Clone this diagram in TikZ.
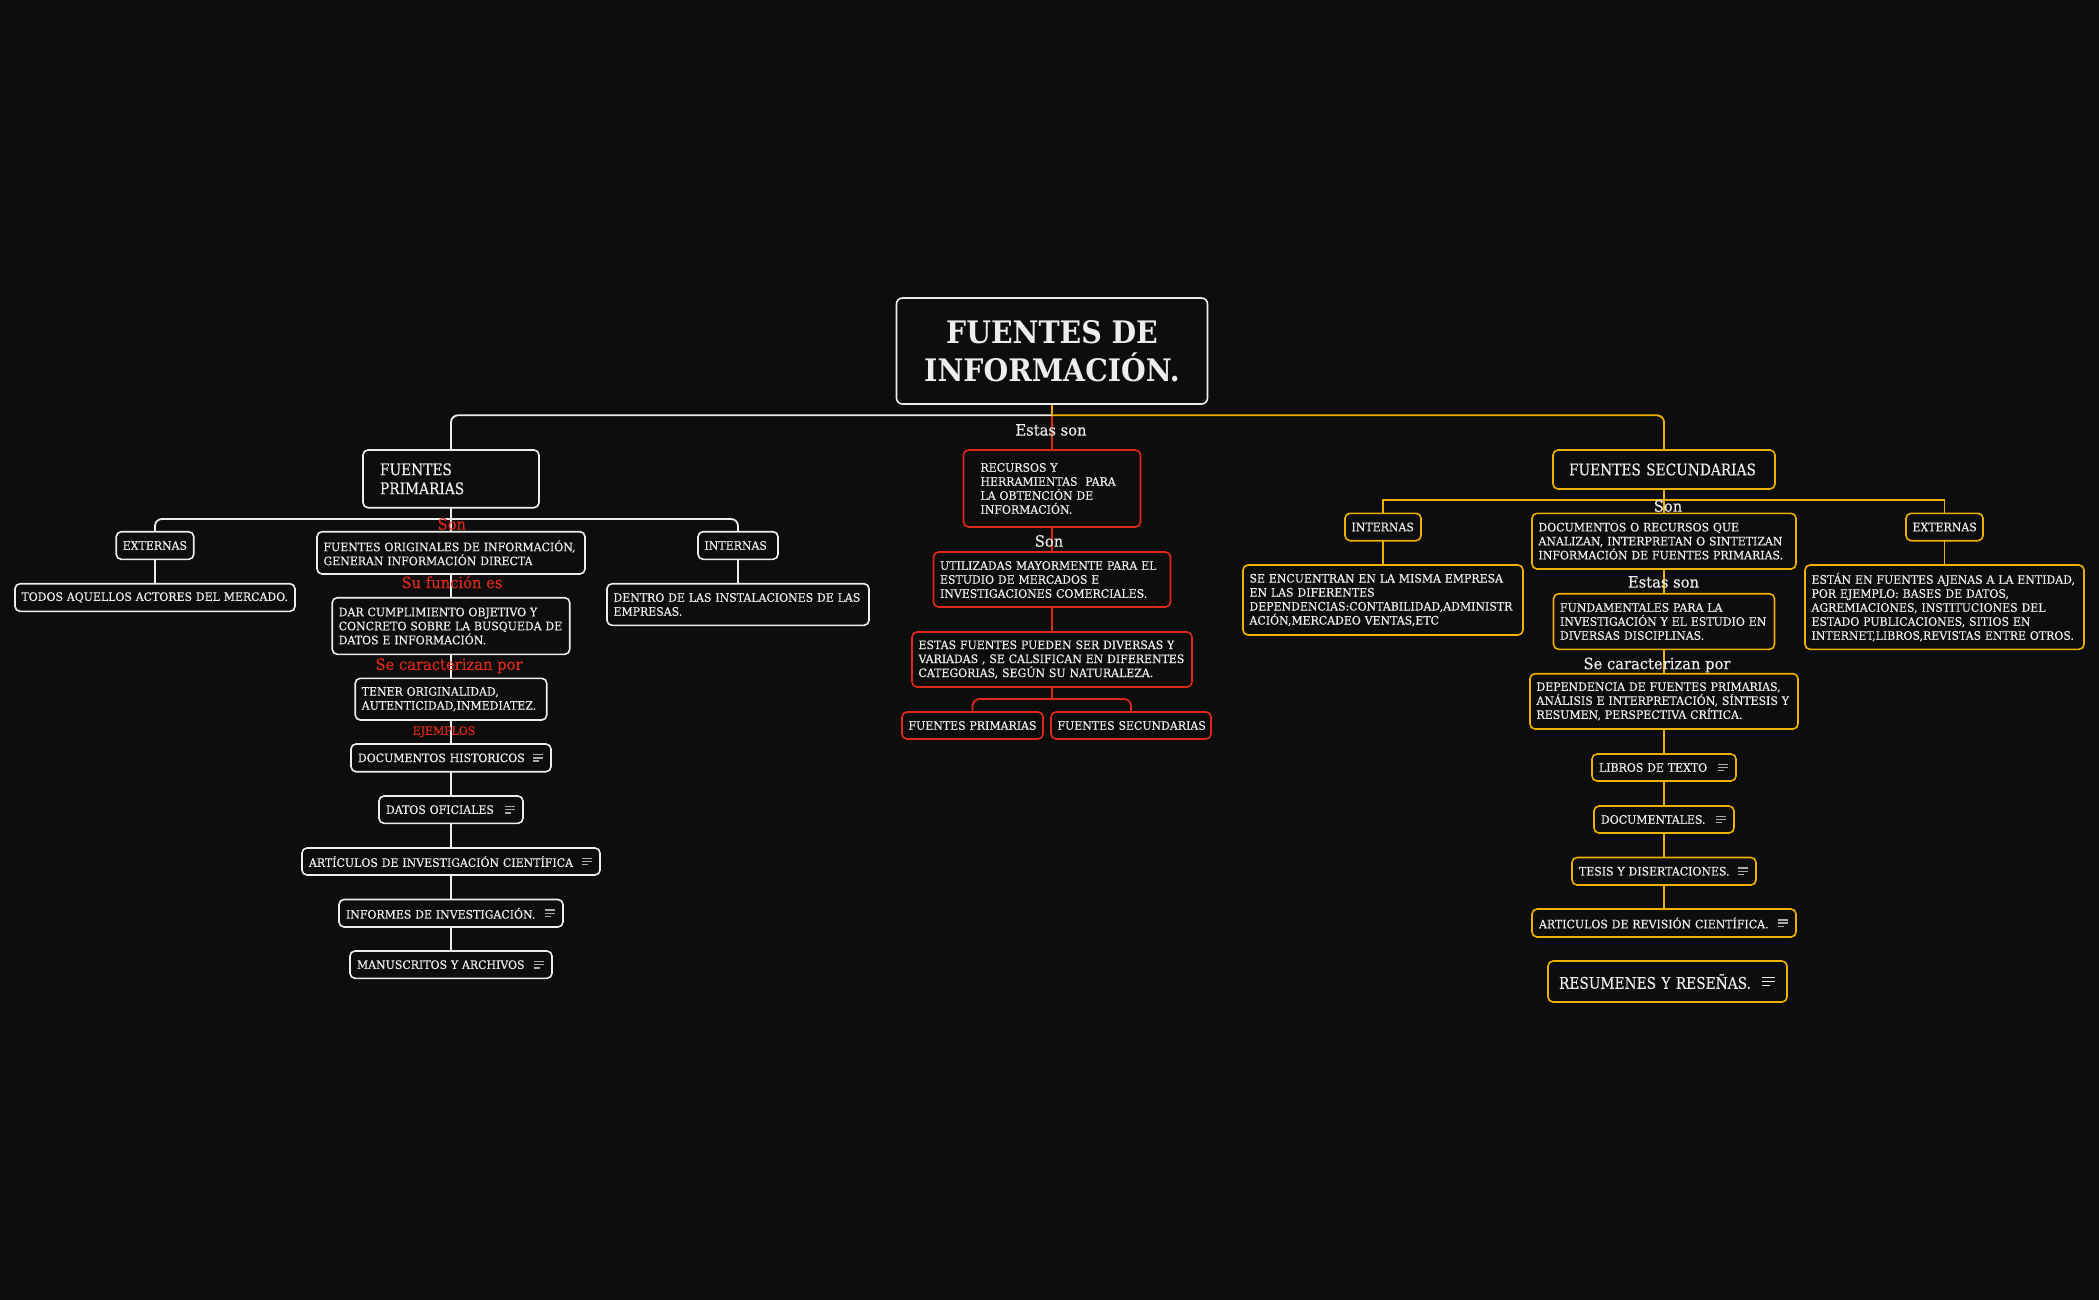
\documentclass[tikz,border=0pt]{standalone}
\usepackage{fontspec}
\setmainfont{DejaVu Serif}[FakeStretch=0.94]
\newfontfamily\smallf{DejaVu Serif}[FakeStretch=0.943,FakeBold=0.45]
\newfontfamily\bigf{DejaVu Serif}[FakeStretch=0.86,FakeBold=0.25]
\newfontfamily\labf{DejaVu Serif}[FakeStretch=0.95,FakeBold=0.25]
\newfontfamily\rootf{DejaVu Serif Bold}[FakeStretch=0.915]
\newcommand{\nohy}{\hyphenpenalty=10000\relax}
\definecolor{bgc}{HTML}{0D0D0D}
\definecolor{wc}{HTML}{EDEDED}
\definecolor{rc}{HTML}{E0281A}
\definecolor{oc}{HTML}{F0B000}
\definecolor{ic}{HTML}{ABABAB}
\pgfdeclarelayer{conn}
\pgfsetlayers{conn,main}
\tikzset{
  base/.style={rounded corners=5pt,fill=bgc,line width=1.6pt,text=wc,outer sep=0pt,inner ysep=0pt,align=left,
    font=\smallf\fontsize{11.6}{14}\selectfont\nohy},
  wbox/.style={base,draw=wc},
  rbox/.style={base,draw=rc},
  obox/.style={base,draw=oc},
  bigt/.style={font=\bigf\fontsize{16}{19}\selectfont\nohy},
  wl/.style={draw=wc,line width=1.8pt},
  rl/.style={draw=rc,line width=1.8pt},
  ol/.style={draw=oc,line width=1.8pt},
  rd/.style={rounded corners=7pt},
  lab/.style={inner sep=0pt,font=\labf\fontsize{15.5}{18}\selectfont},
  icn/.style={draw=ic,line width=1.4pt},
  icnb/.style={draw=wc,line width=1pt},
}
% style, name, cx, y0, y1, w, pad, text
\newcommand{\bx}[8]{\node[#1,minimum height={(#5-#4)*1pt},inner xsep=#7pt,text width={(#6-2*#7)*1pt}] (#2) at (#3,{(#4+#5)/2}) {#8};}
\newcommand{\icon}[1]{\draw[icn] ([xshift=-18pt,yshift=3.2pt]#1.east) -- ++(10,0) ([xshift=-18pt]#1.east) -- ++(10,0) ([xshift=-18pt,yshift=-3.2pt]#1.east) -- ++(6,0);}
\begin{document}
\begin{tikzpicture}[x=1pt,y=-1pt]
\begin{pgfonlayer}{conn}
\path[use as bounding box,fill=bgc] (0,0) rectangle (2099,1300);
\end{pgfonlayer}
% centre
\node[wbox,minimum width=311pt,minimum height=106pt,inner sep=0pt,align=center,font=\rootf\fontsize{31}{38.5}\selectfont,rounded corners=6pt] (root) at (1052,351) {FUENTES DE\\INFORMACIÓN.};
\bx{rbox}{rec}{1052}{450}{527}{177}{17}{RECURSOS Y\\HERRAMIENTAS\ \ PARA\\LA OBTENCIÓN DE\\INFORMACIÓN.}
\bx{rbox}{util}{1052}{552}{607}{237}{6.5}{UTILIZADAS MAYORMENTE PARA EL\\ESTUDIO DE MERCADOS E\\INVESTIGACIONES COMERCIALES.}
\bx{rbox}{est}{1052}{632}{687}{280}{6.5}{ESTAS FUENTES PUEDEN SER DIVERSAS Y\\VARIADAS , SE CALSIFICAN EN DIFERENTES\\CATEGORIAS, SEGÚN SU NATURALEZA.}
\bx{rbox}{fpc}{972.5}{712}{739}{141}{6.5}{\mbox{FUENTES PRIMARIAS}}
\bx{rbox}{fsc}{1131}{712}{739}{160}{6.5}{\mbox{FUENTES SECUNDARIAS}}
\node[lab,text=wc] (l1) at (1051,430) {Estas son};
\node[lab,text=wc] (l2) at (1049,541) {Son};
% left
\bx{wbox,bigt}{fp}{451}{450}{507.7}{176}{17}{FUENTES\\PRIMARIAS}
\bx{wbox}{lext}{155}{531.7}{559.3}{77.5}{6.5}{\mbox{EXTERNAS}}
\bx{wbox}{orig}{451}{531.7}{574}{268}{6.5}{FUENTES ORIGINALES DE INFORMACIÓN,\\GENERAN INFORMACIÓN DIRECTA}
\bx{wbox}{lint}{738}{531.7}{559.3}{80}{6.5}{\mbox{INTERNAS}}
\bx{wbox}{todos}{155}{583.7}{611.3}{280}{6.5}{\mbox{TODOS AQUELLOS ACTORES DEL MERCADO.}}
\bx{wbox}{dentro}{738}{583.7}{625.3}{262}{6.5}{DENTRO DE LAS INSTALACIONES DE LAS\\EMPRESAS.}
\bx{wbox}{dar}{451}{597.7}{654.3}{237.5}{6.5}{DAR CUMPLIMIENTO OBJETIVO Y\\CONCRETO SOBRE LA BUSQUEDA DE\\DATOS E INFORMACIÓN.}
\bx{wbox}{ten}{451}{678.3}{720}{191.5}{6.5}{TENER ORIGINALIDAD,\\AUTENTICIDAD,INMEDIATEZ.}
\bx{wbox}{dh}{451}{744}{771.7}{200}{7}{\mbox{DOCUMENTOS HISTORICOS}}
\bx{wbox}{dof}{451}{796}{823.3}{144}{7}{\mbox{DATOS OFICIALES}}
\bx{wbox}{art}{451}{848}{875}{298}{7}{\mbox{ARTÍCULOS DE INVESTIGACIÓN CIENTÍFICA}}
\bx{wbox}{inf}{451}{899.5}{927}{224}{7}{\mbox{INFORMES DE INVESTIGACIÓN.}}
\bx{wbox}{man}{451}{951}{978.3}{202}{7}{\mbox{MANUSCRITOS Y ARCHIVOS}}
\node[lab,text=rc] (l3) at (451.8,524) {Son};
\node[lab,text=rc] (l4) at (452,582) {Su función es};
\node[lab,text=rc] (l5) at (449,665.7) {Se caracterizan por};
\node[lab,text=rc,font=\labf\fontsize{11.5}{14}\selectfont] (l6) at (444,731.7) {EJEMPLOS};
\icon{dh}\icon{dof}\icon{art}\icon{inf}\icon{man}
% right
\bx{obox,bigt}{fsec}{1664}{450}{489}{222}{16}{\mbox{FUENTES SECUNDARIAS}}
\bx{obox}{rint}{1383}{513.3}{540.7}{76}{6.5}{\mbox{INTERNAS}}
\bx{obox}{rdoc}{1664}{513.3}{569}{264}{6.5}{DOCUMENTOS O RECURSOS QUE\\ANALIZAN, INTERPRETAN O SINTETIZAN\\INFORMACIÓN DE FUENTES PRIMARIAS.}
\bx{obox}{rext}{1944.5}{513.3}{540.7}{77}{6.5}{\mbox{EXTERNAS}}
\bx{obox}{senc}{1383}{565}{635}{280}{6.5}{SE ENCUENTRAN EN LA MISMA EMPRESA\\EN LAS DIFERENTES\\DEPENDENCIAS:CONTABILIDAD,ADMINISTR\\ACIÓN,MERCADEO VENTAS,ETC}
\bx{obox}{esta}{1944.5}{565}{649.3}{279}{6.5}{ESTÁN EN FUENTES AJENAS A LA ENTIDAD,\\POR EJEMPLO: BASES DE DATOS,\\AGREMIACIONES, INSTITUCIONES DEL\\ESTADO PUBLICACIONES, SITIOS EN\\INTERNET,LIBROS,REVISTAS ENTRE OTROS.}
\bx{obox}{fund}{1664}{593.7}{649.3}{221}{6.5}{FUNDAMENTALES PARA LA\\INVESTIGACIÓN Y EL ESTUDIO EN\\DIVERSAS DISCIPLINAS.}
\bx{obox}{dep}{1664}{673.7}{729}{268}{6.5}{DEPENDENCIA DE FUENTES PRIMARIAS,\\ANÁLISIS E INTERPRETACIÓN, SÍNTESIS Y\\RESUMEN, PERSPECTIVA CRÍTICA.}
\bx{obox}{lib}{1664}{754}{781}{144}{7}{\mbox{LIBROS DE TEXTO}}
\bx{obox}{doc}{1664}{806}{833}{140}{7}{\mbox{DOCUMENTALES.}}
\bx{obox}{tes}{1664}{857.5}{885}{184}{7}{\mbox{TESIS Y DISERTACIONES.}}
\bx{obox}{rart}{1664}{909}{937}{264}{7}{\mbox{ARTICULOS DE REVISIÓN CIENTÍFICA.}}
\bx{obox,bigt}{res}{1667.5}{961}{1002}{239}{11}{\mbox{RESUMENES Y RESEÑAS.}}
\node[lab,text=wc] (l7) at (1668,506) {Son};
\node[lab,text=wc] (l8) at (1663.5,582) {Estas son};
\node[lab,text=wc] (l9) at (1657,665) {Se caracterizan por};
\icon{lib}\icon{doc}\icon{tes}\icon{rart}
\draw[icnb] ([xshift=-25pt,yshift=4.3pt]res.east) -- ++(13,0) ([xshift=-25pt]res.east) -- ++(13,0) ([xshift=-25pt,yshift=-4.3pt]res.east) -- ++(8,0);
% junctions
\coordinate (jroot) at (1052,415.3);
\coordinate (jfp) at (451,519);
\coordinate (jfs) at (1664,500);
\coordinate (jest) at (1052,699);
\begin{pgfonlayer}{conn}
\draw[rl] (root.south) -- (rec.north);
\draw[rl] (rec.south) -- (util.north);
\draw[rl] (util.south) -- (est.north);
\draw[rl] (est.south) -- (jest);
\draw[rl,rd] (jest) -| (fpc.north);
\draw[rl,rd] (jest) -| (fsc.north);
\draw[wl,rd] (jroot) -| (fp.north);
\draw[wl] (fp.south) -- (orig.north);
\draw[wl,rd] (jfp) -| (lext.north);
\draw[wl,rd] (jfp) -| (lint.north);
\draw[wl] (lext.south) -- (todos.north);
\draw[wl] (lint.south) -- (dentro.north);
\draw[wl] (orig.south) -- (dar.north);
\draw[wl] (dar.south) -- (ten.north);
\draw[wl] (ten.south) -- (dh.north);
\draw[wl] (dh.south) -- (dof.north);
\draw[wl] (dof.south) -- (art.north);
\draw[wl] (art.south) -- (inf.north);
\draw[wl] (inf.south) -- (man.north);
\draw[ol] (root.south) -- (jroot);
\draw[ol,rd] (jroot) -| (fsec.north);
\draw[ol] (fsec.south) -- (rdoc.north);
\draw[ol] (jfs) -| (rint.north);
\draw[ol] (jfs) -| (rext.north);
\draw[ol] (rint.south) -- (senc.north);
\draw[ol] (rext.south) -- (esta.north);
\draw[ol] (rdoc.south) -- (fund.north);
\draw[ol] (fund.south) -- (dep.north);
\draw[ol] (dep.south) -- (lib.north);
\draw[ol] (lib.south) -- (doc.north);
\draw[ol] (doc.south) -- (tes.north);
\draw[ol] (tes.south) -- (rart.north);
\end{pgfonlayer}
\end{tikzpicture}
\end{document}
